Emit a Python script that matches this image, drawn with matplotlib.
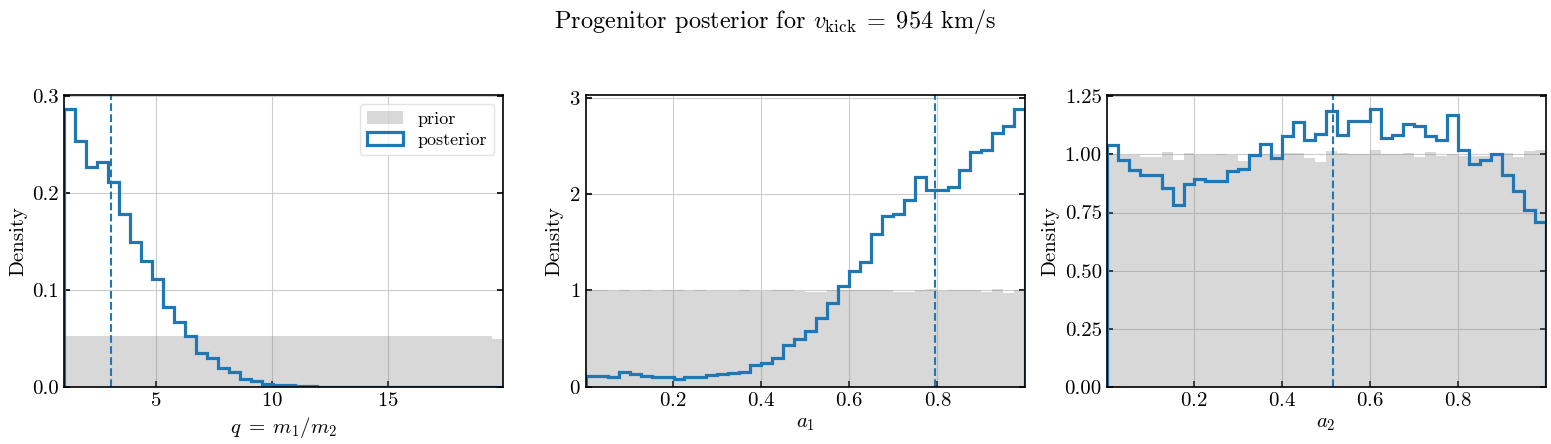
import matplotlib
matplotlib.use("Agg")
import matplotlib.pyplot as plt
from matplotlib.ticker import MultipleLocator, FormatStrFormatter
import numpy as np

plt.rcParams['font.family'] = 'serif'
plt.rcParams['font.serif'] = ['cmr10']
plt.rcParams['mathtext.fontset'] = 'cm'
plt.rcParams['axes.unicode_minus'] = False
plt.rcParams['axes.formatter.use_mathtext'] = True

# binned densities (40 bins per panel)
q_range = (1.05, 19.98)
a1_range = (0.003, 0.998)
a2_range = (0.002, 0.999)

prior_q = [0.0528, 0.0520, 0.0522, 0.0525, 0.0522, 0.0527, 0.0529, 0.0519, 0.0524, 0.0527,
           0.0523, 0.0522, 0.0526, 0.0528, 0.0523, 0.0524, 0.0522, 0.0521, 0.0520, 0.0521,
           0.0523, 0.0525, 0.0526, 0.0524, 0.0526, 0.0523, 0.0522, 0.0525, 0.0526, 0.0524,
           0.0526, 0.0522, 0.0521, 0.0524, 0.0527, 0.0525, 0.0524, 0.0529, 0.0527, 0.0496]
post_q = [0.287, 0.254, 0.227, 0.232, 0.212, 0.178, 0.149, 0.130, 0.111, 0.082,
          0.067, 0.0525, 0.0353, 0.0298, 0.0189, 0.0147, 0.0075, 0.0055, 0.0024, 0.0014,
          0.0013, 0.0011, 0.0003, 0.0002, 0.0001, 0.0, 0.0, 0.0, 0.0, 0.0,
          0.0, 0.0, 0.0, 0.0, 0.0, 0.0, 0.0, 0.0, 0.0, 0.0]

prior_a1 = [1.000, 1.008, 0.998, 1.000, 0.997, 1.008, 0.996, 1.001, 1.008, 0.999,
            1.001, 0.997, 0.999, 0.992, 1.000, 0.995, 0.999, 1.003, 1.001, 0.999,
            0.986, 0.988, 1.000, 1.000, 1.002, 1.001, 1.000, 1.000, 0.987, 0.988,
            1.000, 1.017, 0.999, 1.000, 1.001, 1.006, 0.988, 1.015, 0.976, 1.000]
post_a1 = [0.114, 0.114, 0.103, 0.148, 0.134, 0.114, 0.103, 0.103, 0.083, 0.097,
           0.097, 0.117, 0.128, 0.138, 0.148, 0.227, 0.245, 0.303, 0.434, 0.500,
           0.578, 0.710, 0.868, 1.042, 1.198, 1.292, 1.588, 1.777, 1.794, 1.935,
           2.177, 2.047, 2.038, 2.078, 2.249, 2.441, 2.462, 2.637, 2.705, 2.885]

prior_a2 = [1.000, 0.996, 0.996, 0.991, 0.990, 1.009, 0.976, 1.006, 0.996, 0.996,
            1.001, 0.996, 0.971, 1.000, 1.000, 0.996, 1.006, 1.006, 0.986, 0.969,
            1.014, 1.007, 1.000, 1.000, 1.017, 1.000, 1.000, 1.006, 0.991, 1.010,
            0.993, 1.000, 0.993, 0.993, 0.993, 1.003, 1.006, 0.991, 1.014, 1.017]
post_a2 = [1.039, 0.976, 0.931, 0.910, 0.910, 0.857, 0.781, 0.871, 0.893, 0.886,
           0.886, 0.929, 0.937, 0.997, 1.043, 0.986, 1.081, 1.139, 1.064, 1.089,
           1.189, 1.083, 1.143, 1.143, 1.196, 1.071, 1.083, 1.133, 1.123, 1.079,
           1.061, 1.169, 1.017, 0.957, 0.976, 1.003, 0.910, 0.843, 0.760, 0.707]

true_vals = [3.07, 0.794, 0.515]
xlabels = [r'$q \;=\; m_1/m_2$', r'$a_1$', r'$a_2$']
title = r'Progenitor posterior for $v_{\rm kick} \;=\; 954$ km/s'

panels = [(q_range, prior_q, post_q), (a1_range, prior_a1, post_a1), (a2_range, prior_a2, post_a2)]

fig = plt.figure(figsize=(15.51, 4.44), dpi=100)
lefts = [0.0413, 0.3776, 0.7135]
axes = [fig.add_axes([l, 0.129, 0.2832, 0.657]) for l in lefts]

for i, ax in enumerate(axes):
    rng, prior, post = panels[i]
    edges = np.linspace(rng[0], rng[1], len(prior) + 1)
    ax.hist(edges[:-1], bins=edges, weights=prior, histtype='stepfilled',
            color='gray', alpha=0.3, lw=0, label='prior')
    ax.hist(edges[:-1], bins=edges, weights=post, histtype='step',
            color='C0', lw=2.3, label='posterior')
    ax.axvline(true_vals[i], color='C0', ls='--', lw=1.5)
    ax.set_xlim(rng)
    ax.set_ylim(0, max(post) * 1.05)
    ax.grid(True, color='#cccccc', lw=0.8)
    ax.set_axisbelow(True)
    ax.set_xlabel(xlabels[i], fontsize=15)
    ax.set_ylabel('Density', fontsize=15)
    ax.tick_params(direction='in', top=False, right=True, labelsize=15, length=4.5, width=1.2)
    for s in ax.spines.values():
        s.set_linewidth(1.2)

axes[0].xaxis.set_major_locator(MultipleLocator(5))
axes[0].yaxis.set_major_locator(MultipleLocator(0.1))
axes[0].yaxis.set_major_formatter(FormatStrFormatter('%.1f'))
axes[1].xaxis.set_major_locator(MultipleLocator(0.2))
axes[1].yaxis.set_major_locator(MultipleLocator(1))
axes[2].xaxis.set_major_locator(MultipleLocator(0.2))
axes[2].yaxis.set_major_locator(MultipleLocator(0.25))
axes[2].yaxis.set_major_formatter(FormatStrFormatter('%.2f'))

axes[0].legend(loc='upper right', fontsize=13, fancybox=True, edgecolor='#dddddd',
               handlelength=2.0, borderpad=0.4, labelspacing=0.3)

fig.suptitle(title, fontsize=17.5, y=0.985)
fig.savefig('out.png', dpi=100)
